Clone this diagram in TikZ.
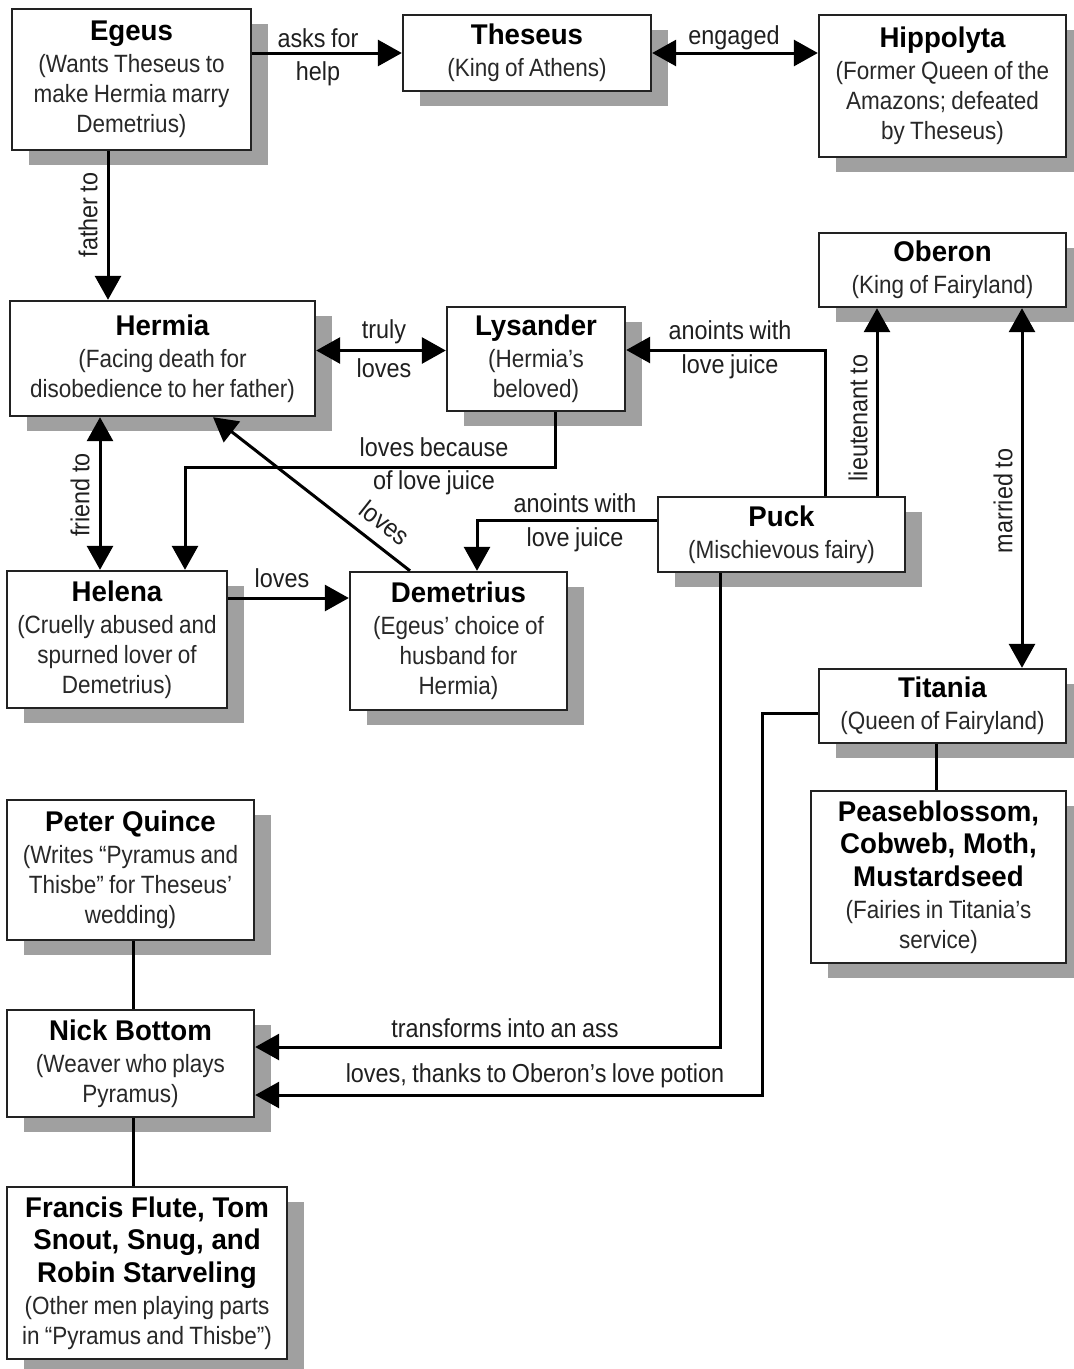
\documentclass[tikz,border=0pt]{standalone}
\usepackage{fontspec}
\setmainfont{Liberation Sans}
\newfontfamily\titlefam[FakeStretch=0.97]{Liberation Sans}
\newfontfamily\narrowfam[FakeStretch=0.9,WordSpace=0.85]{Liberation Sans}
\usetikzlibrary{arrows.meta,shadows,calc}
\definecolor{shadowgray}{RGB}{160,160,160}
\definecolor{boxline}{RGB}{34,34,34}
\definecolor{subtext}{RGB}{40,40,40}
\newcommand{\boxtitle}{\titlefam\bfseries\fontsize{28.5}{32.5}\selectfont\color{black}}
\newcommand{\boxsubfont}{\narrowfam\mdseries\fontsize{25}{30}\selectfont}
\newcommand{\boxsub}{\par\vspace{2pt}\boxsubfont\color{subtext}}
\begin{document}
\begin{tikzpicture}[x=1pt,y=-1pt,
 box/.style={draw=boxline, line width=2.4pt, fill=white, inner sep=0pt, align=flush center,
   font=\boxsubfont,
   general shadow={fill=shadowgray, shadow xshift=17pt, shadow yshift=-15pt}},
 conn/.style={line width=3pt, draw=black},
 arr/.style={conn, -{Triangle[length=24pt,width=26pt]}},
 darr/.style={conn, {Triangle[length=24pt,width=26pt]}-{Triangle[length=24pt,width=26pt]}},
 lbl/.style={font=\narrowfam\fontsize{26}{30}\selectfont, text=black!88, inner sep=1pt}]

\useasboundingbox (0,0) rectangle (1074,1369);
\fill[white] (0,0) rectangle (1074,1369);

% boxes
\node[box, minimum width=239pt, minimum height=141pt, text width=235pt] (egeus) at (131.5,79.5)
  {\boxtitle Egeus\boxsub (Wants Theseus to\\make Hermia marry\\Demetrius)\par};
\node[box, minimum width=248pt, minimum height=76pt, text width=244pt] (theseus) at (527,53)
  {\boxtitle Theseus\boxsub (King of Athens)\par};
\node[box, minimum width=247pt, minimum height=142pt, text width=243pt] (hippolyta) at (942.5,86)
  {\boxtitle Hippolyta\boxsub (Former Queen of the\\Amazons; defeated\\by Theseus)\par};
\node[box, minimum width=247pt, minimum height=74pt, text width=243pt] (oberon) at (942.5,270)
  {\boxtitle Oberon\boxsub (King of Fairyland)\par};
\node[box, minimum width=305pt, minimum height=115pt, text width=301pt] (hermia) at (162.5,358.5)
  {\boxtitle Hermia\boxsub (Facing death for\\disobedience to her father)\par};
\node[box, minimum width=178pt, minimum height=104pt, text width=174pt] (lysander) at (536,359)
  {\boxtitle Lysander\boxsub (Hermia’s\\beloved)\par};
\node[box, minimum width=247pt, minimum height=75pt, text width=243pt] (puck) at (781.5,534.5)
  {\boxtitle Puck\boxsub (Mischievous fairy)\par};
\node[box, minimum width=220pt, minimum height=137pt, text width=216pt] (helena) at (117,639.5)
  {\boxtitle Helena\boxsub (Cruelly abused and\\spurned lover of\\Demetrius)\par};
\node[box, minimum width=217pt, minimum height=138pt, text width=213pt] (demetrius) at (458.5,641)
  {\boxtitle Demetrius\boxsub (Egeus’ choice of\\husband for\\Hermia)\par};
\node[box, minimum width=247pt, minimum height=74pt, text width=243pt] (titania) at (942.5,706)
  {\boxtitle Titania\boxsub (Queen of Fairyland)\par};
\node[box, minimum width=255pt, minimum height=172pt, text width=251pt] (pease) at (938.5,877)
  {\boxtitle Peaseblossom,\\Cobweb, Moth,\\Mustardseed\boxsub (Fairies in Titania’s\\service)\par};
\node[box, minimum width=247pt, minimum height=140pt, text width=243pt] (quince) at (130.5,870)
  {\boxtitle Peter Quince\boxsub (Writes “Pyramus and\\Thisbe” for Theseus’\\wedding)\par};
\node[box, minimum width=247pt, minimum height=107pt, text width=243pt] (nick) at (130.5,1063.5)
  {\boxtitle Nick Bottom\boxsub (Weaver who plays\\Pyramus)\par};
\node[box, minimum width=280pt, minimum height=172pt, text width=276pt] (flute) at (147,1273)
  {\boxtitle Francis Flute, Tom\\Snout, Snug, and\\Robin Starveling\boxsub (Other men playing parts\\in “Pyramus and Thisbe”)\par};

% connectors
\draw[arr] (theseus.west -| egeus.east) -- (theseus.west);
\draw[darr] (theseus.east) -- (theseus.east -| hippolyta.west);
\draw[arr] ([xshift=-23.5pt]egeus.south) -- ([xshift=-23.5pt]egeus.south |- hermia.north);
\draw[darr] ([yshift=8pt]hermia.east) -- ([yshift=8pt]hermia.east -| lysander.west);
\draw[arr] ([xshift=43.5pt]puck.north) |- ([yshift=9pt]lysander.east);
\draw[arr] ([xshift=95.5pt]puck.north) -- ([xshift=95.5pt]puck.north |- oberon.south);
\draw[darr] ([xshift=79.5pt]oberon.south) -- ([xshift=79.5pt]titania.north);
\draw[arr] ([xshift=19pt]lysander.south) -- ++(0,55) -| ([xshift=68pt]helena.north);
\draw[arr] ([xshift=-48.5pt]demetrius.north) -- ([xshift=50.5pt]hermia.south);
\draw[darr] ([xshift=-62.5pt]hermia.south) -- ([xshift=-62.5pt]hermia.south |- helena.north);
\draw[arr] ([yshift=41.5pt]helena.east) -- ([yshift=41.5pt]helena.east -| demetrius.west);
\draw[arr] ([yshift=14.5pt]puck.west) -| ([xshift=18.5pt]demetrius.north);
\draw[conn] ([xshift=-6.5pt]titania.south) -- ([xshift=-6.5pt]titania.south |- pease.north);
\draw[arr] ([xshift=-61.5pt]puck.south) |- ([yshift=16.5pt]nick.east);
\draw[arr] ([yshift=-7pt]titania.west) -- ++(-55,0) |- ([yshift=-31.5pt]nick.east);
\draw[conn] ([xshift=2.5pt]quince.south) -- ([xshift=2.5pt]nick.north);
\draw[conn] ([xshift=2.5pt]nick.south) -- ([xshift=2.5pt]nick.south |- flute.north);

% labels
\node[lbl] (l1a) at (318,38) {asks for};
\node[lbl] (l1b) at (318,74) {help};
\node[lbl] (l2) at (734,38) {engaged};
\node[lbl, rotate=90] (l3) at (88,215) {father to};
\node[lbl] (l4a) at (384,332) {truly};
\node[lbl] (l4b) at (384,368) {loves};
\node[lbl] (l5a) at (730,330) {anoints with};
\node[lbl] (l5b) at (730,367) {love juice};
\node[lbl, rotate=90] (l6) at (858,418) {lieutenant to};
\node[lbl, rotate=90] (l7) at (1003,501) {married to};
\node[lbl] (l8a) at (434,447) {loves because};
\node[lbl] (l8b) at (434,483) {of love juice};
\node[lbl, rotate=90] (l9) at (80,495) {friend to};
\node[lbl, rotate=-38.4] (l10) at (385,523) {loves};
\node[lbl] (l11a) at (575,503) {anoints with};
\node[lbl] (l11b) at (575,540) {love juice};
\node[lbl] (l12) at (282,578) {loves};
\node[lbl] (l13) at (505,1028) {transforms into an ass};
\node[lbl] (l14) at (535,1076) {loves, thanks to Oberon’s love potion};
\end{tikzpicture}
\end{document}
